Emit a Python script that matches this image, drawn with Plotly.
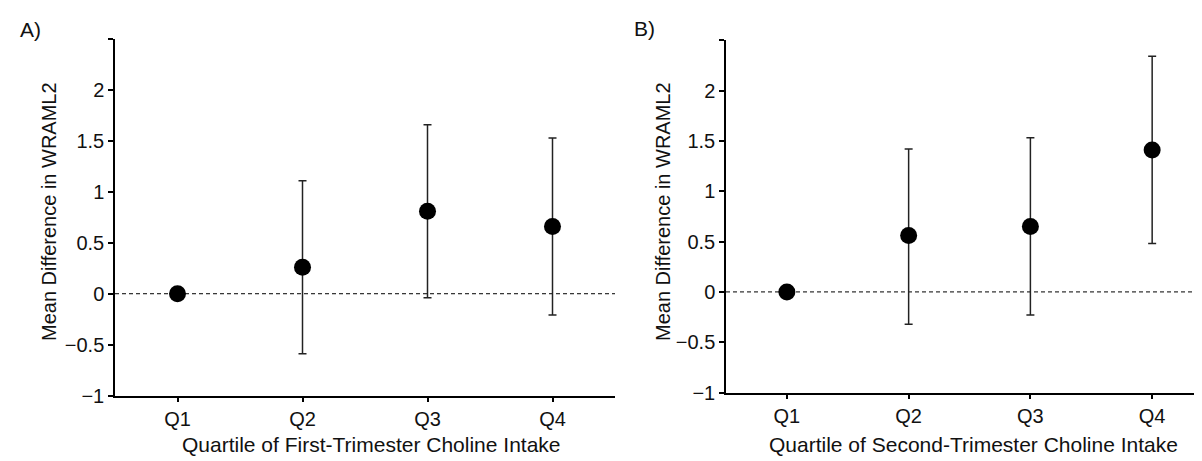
import plotly.graph_objects as go

categories = ["Q1", "Q2", "Q3", "Q4"]
x_pos = [1, 2, 3, 4]

a_mean = [0.0, 0.26, 0.81, 0.66]
a_low = [0.0, -0.59, -0.04, -0.21]
a_high = [0.0, 1.11, 1.66, 1.53]

b_mean = [0.0, 0.56, 0.65, 1.41]
b_low = [0.0, -0.32, -0.23, 0.48]
b_high = [0.0, 1.42, 1.53, 2.34]

y_tickvals = [-1, -0.5, 0, 0.5, 1, 1.5, 2, 2.5]
y_ticktext = ["\u22121", "\u22120.5", "0", "0.5", "1", "1.5", "2", ""]

W, H = 1202, 461
FONT = "Liberation Sans, Arial, sans-serif"

fig = go.Figure()


def add_panel(mean, low, high, xa, ya):
    err_plus = [h - m for h, m in zip(high, mean)]
    err_minus = [m - l for m, l in zip(mean, low)]
    fig.add_trace(go.Scatter(
        x=x_pos, y=mean, mode="markers", xaxis=xa, yaxis=ya,
        marker=dict(color="black", size=17),
        error_y=dict(type="data", symmetric=False, array=err_plus, arrayminus=err_minus,
                     color="#222222", thickness=1.5, width=4),
        showlegend=False, hoverinfo="skip",
    ))


add_panel(a_mean, a_low, a_high, "x", "y")
add_panel(b_mean, b_low, b_high, "x2", "y2")

axis_common = dict(showline=True, linecolor="black", linewidth=1.5, ticks="outside",
                   ticklen=5, tickwidth=1.5, tickcolor="black", showgrid=False, zeroline=False,
                   tickfont=dict(family=FONT, size=20, color="#111111"))

fig.update_layout(
    width=W, height=H, margin=dict(l=0, r=0, t=0, b=0),
    paper_bgcolor="white", plot_bgcolor="white",
    xaxis=dict(domain=[107 / W, 607 / W], range=[0.5, 4.5], tickvals=x_pos, ticktext=categories,
               anchor="y", **axis_common),
    yaxis=dict(domain=[1 - 397 / H, 1 - 32 / H], range=[-1, 2.5], tickvals=y_tickvals,
               ticktext=y_ticktext, anchor="x", **axis_common),
    xaxis2=dict(domain=[718 / W, 1.0], range=[0.5, 4.475], tickvals=x_pos, ticktext=categories,
                anchor="y2", **axis_common),
    yaxis2=dict(domain=[1 - 394 / H, 1 - 33 / H], range=[-1, 2.5], tickvals=y_tickvals,
                ticktext=y_ticktext, anchor="x2", **axis_common),
)

for xr, yr in (("x", "y"), ("x2", "y2")):
    fig.add_shape(type="line", xref=f"{xr} domain", yref=yr, x0=0, x1=1, y0=0, y1=0,
                  line=dict(color="black", width=1, dash="4px,3px"), layer="below")

annotations = [
    dict(text="A)", x=10 / W, y=1 - 22 / H, xanchor="left", yanchor="middle", size=21),
    dict(text="B)", x=624 / W, y=1 - 21 / H, xanchor="left", yanchor="middle", size=21),
    dict(text="Mean Difference in WRAML2", x=41 / W, y=1 - 209 / H, textangle=-90,
         xanchor="center", yanchor="middle", size=20),
    dict(text="Mean Difference in WRAML2", x=655 / W, y=1 - 209 / H, textangle=-90,
         xanchor="center", yanchor="middle", size=20),
    dict(text="Quartile of First-Trimester Choline Intake", x=363 / W, y=1 - 447 / H,
         xanchor="center", yanchor="middle", size=21),
    dict(text="Quartile of Second-Trimester Choline Intake", x=966 / W, y=1 - 447 / H,
         xanchor="center", yanchor="middle", size=21),
]
for a in annotations:
    sz = a.pop("size")
    fig.add_annotation(xref="paper", yref="paper", showarrow=False,
                       font=dict(family=FONT, size=sz, color="#111111"), **a)

fig.write_html("out.html")
